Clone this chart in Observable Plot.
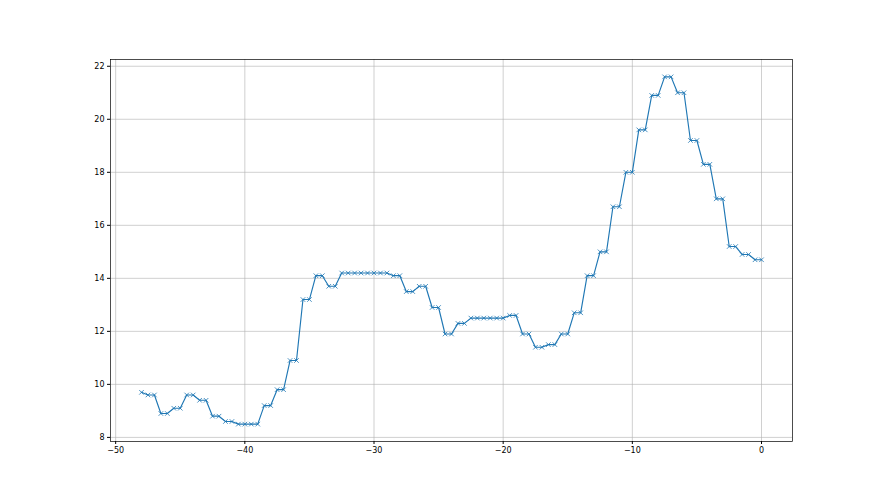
<!DOCTYPE html>
<html>
<head>
<meta charset="utf-8">
<script src="https://cdn.jsdelivr.net/npm/d3@7"></script>
<script src="https://cdn.jsdelivr.net/npm/@observablehq/plot@0.6"></script>
<style>
  html, body { margin: 0; padding: 0; background: #fff; }
  #chart svg { display: block; }
</style>
</head>
<body>
<div id="chart"></div>
<script>
// x positions: half-unit steps from -48 to 0
const xValues = d3.range(-48, 0.25, 0.5);
// observed values (each level held for two samples)
const yValues = [
  9.7,
  9.6, 9.6, 8.9, 8.9, 9.1, 9.1, 9.6, 9.6, 9.4, 9.4,
  8.8, 8.8, 8.6, 8.6, 8.5, 8.5, 8.5, 8.5, 9.2, 9.2,
  9.8, 9.8, 10.9, 10.9, 13.2, 13.2, 14.1, 14.1, 13.7, 13.7,
  14.2, 14.2, 14.2, 14.2, 14.2, 14.2, 14.2, 14.2,
  14.1, 14.1, 13.5, 13.5, 13.7, 13.7, 12.9, 12.9, 11.9, 11.9, 12.3, 12.3,
  12.5, 12.5, 12.5, 12.5, 12.5, 12.5,
  12.6, 12.6, 11.9, 11.9, 11.4, 11.4, 11.5, 11.5, 11.9, 11.9,
  12.7, 12.7, 14.1, 14.1, 15.0, 15.0, 16.7, 16.7, 18.0, 18.0,
  19.6, 19.6, 20.9, 20.9, 21.6, 21.6, 21.0, 21.0, 19.2, 19.2,
  18.3, 18.3, 17.0, 17.0, 15.2, 15.2, 14.9, 14.9, 14.7, 14.7
];
const xTicks = [-50, -40, -30, -20, -10, 0];
const yTicks = [8, 10, 12, 14, 16, 18, 20, 22];

const data = xValues.map((x, i) => ({x, y: yValues[i]}));
const fmt = d => (d < 0 ? "\u2212" + Math.abs(d) : String(d));

const chart = Plot.plot({
  width: 880,
  height: 495,
  marginLeft: 110,
  marginRight: 88,
  marginTop: 59,
  marginBottom: 54,
  style: {fontFamily: "DejaVu Sans", fontSize: "8px", color: "#000", background: "#fff"},
  x: {domain: [-50.4, 2.4]},
  y: {domain: [7.845, 22.255]},
  marks: [
    Plot.gridX(xTicks, {stroke: "#b0b0b0", strokeOpacity: 1, strokeWidth: 0.6}),
    Plot.gridY(yTicks, {stroke: "#b0b0b0", strokeOpacity: 1, strokeWidth: 0.6}),
    Plot.line(data, {x: "x", y: "y", stroke: "#1f77b4", strokeWidth: 1.15}),
    Plot.dot(data, {x: "x", y: "y", symbol: "times", r: 2.2, stroke: "#1f77b4", strokeWidth: 0.8}),
    Plot.frame({stroke: "#000", strokeWidth: 0.7}),
    Plot.axisX(xTicks, {tickSize: 3, tickPadding: 3, tickFormat: fmt, label: null, stroke: "#000", fill: "#000"}),
    Plot.axisY(yTicks, {tickSize: 3, tickPadding: 3, tickFormat: fmt, label: null, stroke: "#000", fill: "#000"})
  ]
});
document.getElementById("chart").appendChild(chart);
</script>
</body>
</html>
